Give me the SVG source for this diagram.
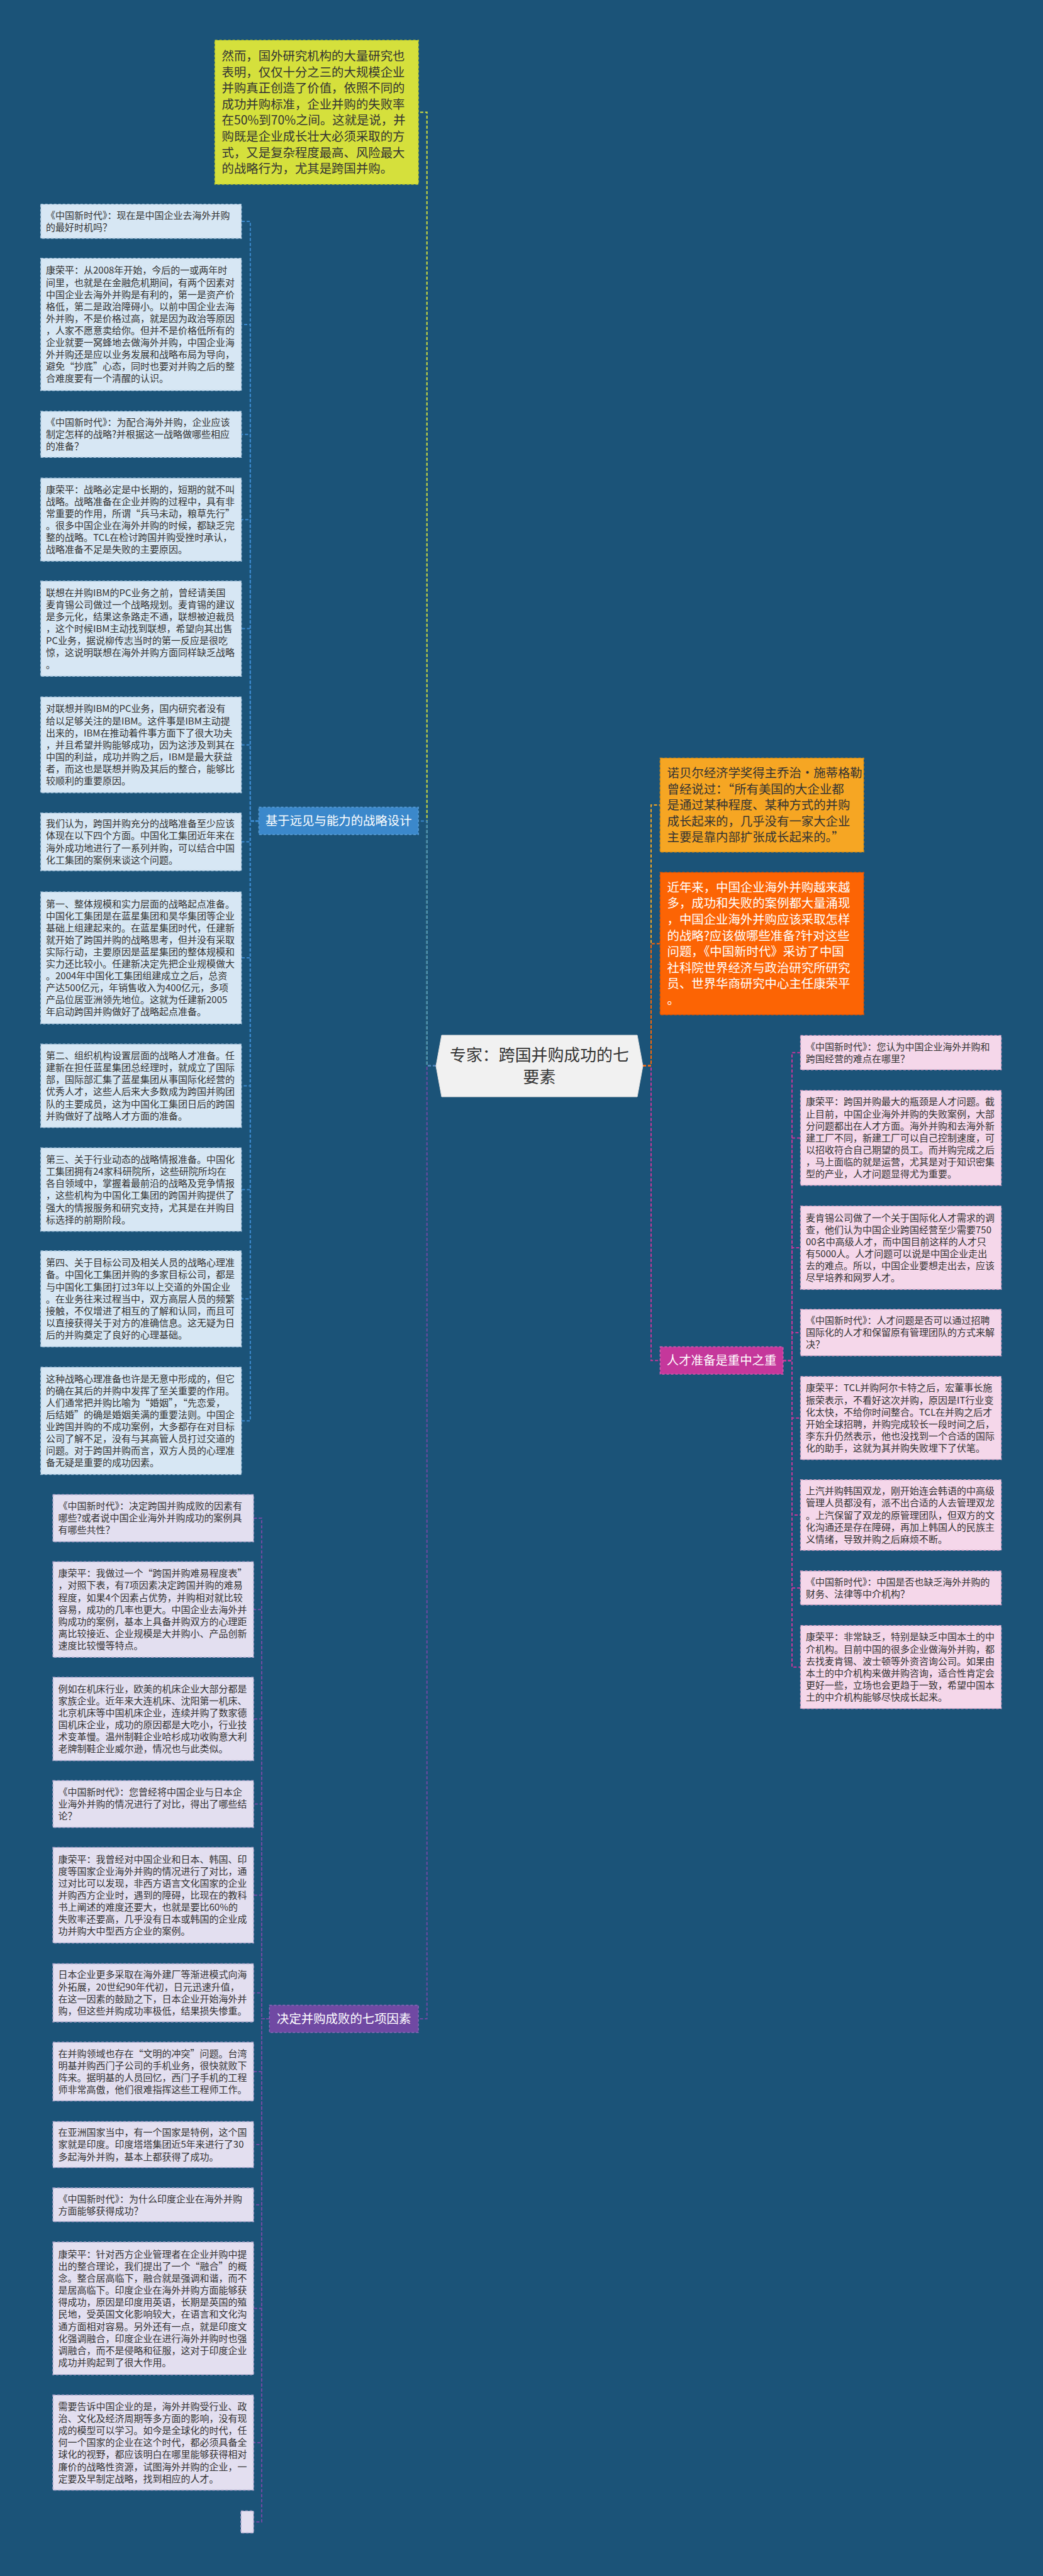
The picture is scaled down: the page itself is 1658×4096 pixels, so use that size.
<svg xmlns="http://www.w3.org/2000/svg" width="1658" height="4096" viewBox="0 0 1658 4096">
<style>
.t{font-family:"Noto Sans CJK SC","Noto Sans",sans-serif;font-size:15px;fill:#333}
.tb{font-family:"Noto Sans CJK SC","Noto Sans",sans-serif;font-size:19.4px;fill:#333}
.tw{fill:#fff}
.lbl{font-family:"Noto Sans CJK SC","Noto Sans",sans-serif;font-size:19.4px;fill:#fff;text-anchor:middle}
.n1{fill:#d7e7f4;stroke:#a9c6de;stroke-width:1.5;stroke-dasharray:4 3}
.n2{fill:#e3dff0;stroke:#aea5cc;stroke-width:1.5;stroke-dasharray:4 3}
.n3{fill:#f5d7ea;stroke:#d8a3c6;stroke-width:1.5;stroke-dasharray:4 3}
.c{fill:none;stroke-width:2;stroke-dasharray:5 3}
</style>
<rect width="1658" height="4096" fill="#1b5378"/>
<g id="connectors">
<path class="c" stroke="#d5e03c" d="M693 1694.5H678.7V178.6H665.1"/>
<path class="c" stroke="#7049a3" d="M693 1694.5H678.7V3210H665.1"/>
<path class="c" stroke="#3b88cb" d="M693 1694.5H678.7V1305.6H665.1"/>
<path class="c" stroke="#c5379b" d="M1022 1694.5H1035V2163.3H1049.4"/>
<path class="c" stroke="#f5a623" d="M1022 1694.5H1035V1280H1049.4"/>
<path class="c" stroke="#fc6404" d="M1022 1694.5H1035V1500.4H1049.4"/>
<g stroke="#3b88cb">
<path class="c" d="M411.5 1305.6H397.9V352H383.7"/>
<path class="c" d="M411.5 1305.6H397.9V516H383.7"/>
<path class="c" d="M411.5 1305.6H397.9V690.7H383.7"/>
<path class="c" d="M411.5 1305.6H397.9V826.2H383.7"/>
<path class="c" d="M411.5 1305.6H397.9V999.6H383.7"/>
<path class="c" d="M411.5 1305.6H397.9V1184.4H383.7"/>
<path class="c" d="M411.5 1305.6H397.9V1338.6H383.7"/>
<path class="c" d="M411.5 1305.6H397.9V1523.1H383.7"/>
<path class="c" d="M411.5 1305.6H397.9V1726.5H383.7"/>
<path class="c" d="M411.5 1305.6H397.9V1891.5H383.7"/>
<path class="c" d="M411.5 1305.6H397.9V2065.3H383.7"/>
<path class="c" d="M411.5 1305.6H397.9V2259.2H383.7"/>
</g>
<g stroke="#c5379b">
<path class="c" d="M1244.8 2163.3H1259V1673.8H1272.6"/>
<path class="c" d="M1244.8 2163.3H1259V1809.4H1272.6"/>
<path class="c" d="M1244.8 2163.3H1259V1984H1272.6"/>
<path class="c" d="M1244.8 2163.3H1259V2118.9H1272.6"/>
<path class="c" d="M1244.8 2163.3H1259V2254.8H1272.6"/>
<path class="c" d="M1244.8 2163.3H1259V2409.1H1272.6"/>
<path class="c" d="M1244.8 2163.3H1259V2525H1272.6"/>
<path class="c" d="M1244.8 2163.3H1259V2650.8H1272.6"/>
</g>
<g stroke="#7049a3">
<path class="c" d="M428.3 3210H416V2414H403.1"/>
<path class="c" d="M428.3 3210H416V2559.2H403.1"/>
<path class="c" d="M428.3 3210H416V2733.3H403.1"/>
<path class="c" d="M428.3 3210H416V2868.5H403.1"/>
<path class="c" d="M428.3 3210H416V3013.4H403.1"/>
<path class="c" d="M428.3 3210H416V3168.7H403.1"/>
<path class="c" d="M428.3 3210H416V3293.9H403.1"/>
<path class="c" d="M428.3 3210H416V3410.1H403.1"/>
<path class="c" d="M428.3 3210H416V3505.8H403.1"/>
<path class="c" d="M428.3 3210H416V3670.5H403.1"/>
<path class="c" d="M428.3 3210H416V3883.9H403.1"/>
<path class="c" d="M428.3 3210H416V4010.1H403.1"/>
</g>
</g>

<g id="center">
<path d="M702 1646H1013L1022 1695L1013 1744H702L693 1695Z" fill="#f1f1f1" stroke="#dcdcdc" stroke-width="1"/>
<text font-family="'Noto Sans CJK SC','Noto Sans',sans-serif" font-size="25.9" fill="#333" text-anchor="middle"><tspan x="857.5" y="1687">专家：跨国并购成功的七</tspan><tspan x="857.5" y="1722">要素</tspan></text>
</g>

<g id="yellow">
<rect x="341.6" y="64" width="323.5" height="229" fill="#d5e03c" stroke="#bfcb2c" stroke-width="1.5" stroke-dasharray="4 3"/>
<text class="tb" y="95.9"><tspan x="352.6">然而，国外研究机构的大量研究也</tspan><tspan x="352.6" dy="25.6">表明，仅仅十分之三的大规模企业</tspan><tspan x="352.6" dy="25.6">并购真正创造了价值，依照不同的</tspan><tspan x="352.6" dy="25.6">成功并购标准，企业并购的失败率</tspan><tspan x="352.6" dy="25.6">在50%到70%之间。这就是说，并</tspan><tspan x="352.6" dy="25.6">购既是企业成长壮大必须采取的方</tspan><tspan x="352.6" dy="25.6">式，又是复杂程度最高、风险最大</tspan><tspan x="352.6" dy="25.6">的战略行为，尤其是跨国并购。</tspan></text>
</g>

<g id="orange">
<rect x="1049.4" y="1205.4" width="323.5" height="149.4" fill="#f6a623" stroke="#e08f10" stroke-width="1.5" stroke-dasharray="4 3"/>
<text class="tb" y="1235.9"><tspan x="1060.5">诺贝尔经济学奖得主乔治•施蒂格勒</tspan><tspan x="1060.5" dy="25.6">曾经说过：“所有美国的大企业都</tspan><tspan x="1060.5" dy="25.6">是通过某种程度、某种方式的并购</tspan><tspan x="1060.5" dy="25.6">成长起来的，几乎没有一家大企业</tspan><tspan x="1060.5" dy="25.6">主要是靠内部扩张成长起来的。”</tspan></text>
</g>

<g id="red">
<rect x="1049.4" y="1387.2" width="323.5" height="226.4" fill="#fc6404" stroke="#e55500" stroke-width="1.5" stroke-dasharray="4 3"/>
<text class="tb tw" y="1417.8"><tspan x="1060.5">近年来，中国企业海外并购越来越</tspan><tspan x="1060.5" dy="25.6">多，成功和失败的案例都大量涌现</tspan><tspan x="1060.5" dy="25.6">，中国企业海外并购应该采取怎样</tspan><tspan x="1060.5" dy="25.6">的战略?应该做哪些准备?针对这些</tspan><tspan x="1060.5" dy="25.6">问题，《中国新时代》采访了中国</tspan><tspan x="1060.5" dy="25.6">社科院世界经济与政治研究所研究</tspan><tspan x="1060.5" dy="25.6">员、世界华商研究中心主任康荣平</tspan><tspan x="1060.5" dy="25.6">。</tspan></text>
</g>

<g id="branch-blue">
<rect x="411.5" y="1283.6" width="253.6" height="43.4" fill="#3b88cb" stroke="#5a9ed8" stroke-width="1.5" stroke-dasharray="4 3"/>
<text class="lbl" x="538.3" y="1312.3">基于远见与能力的战略设计</text>
</g>
<g id="branch-pink">
<rect x="1049.4" y="2141.6" width="195.4" height="43.3" fill="#c5379b" stroke="#d65cb0" stroke-width="1.5" stroke-dasharray="4 3"/>
<text class="lbl" x="1147.1" y="2170.3">人才准备是重中之重</text>
</g>
<g id="branch-purple">
<rect x="428.3" y="3188.4" width="236.8" height="43.4" fill="#7049a3" stroke="#8a68b8" stroke-width="1.5" stroke-dasharray="4 3"/>
<text class="lbl" x="546.7" y="3217">决定并购成败的七项因素</text>
</g>

<g id="a1"><rect class="n1" x="64.7" y="324.8" width="319" height="54.3"/><text class="t" y="347.8"><tspan x="73">《中国新时代》：现在是中国企业去海外并购</tspan><tspan x="73" dy="19.1">的最好时机吗？</tspan></text></g>
<g id="a2"><rect class="n1" x="64.7" y="410.8" width="319" height="210.3"/><text class="t" y="435.4"><tspan x="73">康荣平：从2008年开始，今后的一或两年时</tspan><tspan x="73" dy="19.1">间里，也就是在金融危机期间，有两个因素对</tspan><tspan x="73" dy="19.1">中国企业去海外并购是有利的，第一是资产价</tspan><tspan x="73" dy="19.1">格低，第二是政治障碍小。以前中国企业去海</tspan><tspan x="73" dy="19.1">外并购，不是价格过高，就是因为政治等原因</tspan><tspan x="73" dy="19.1">，人家不愿意卖给你。但并不是价格低所有的</tspan><tspan x="73" dy="19.1">企业就要一窝蜂地去做海外并购，中国企业海</tspan><tspan x="73" dy="19.1">外并购还是应以业务发展和战略布局为导向，</tspan><tspan x="73" dy="19.1">避免“抄底”心态，同时也要对并购之后的整</tspan><tspan x="73" dy="19.1">合难度要有一个清醒的认识。</tspan></text></g>
<g id="a3"><rect class="n1" x="64.7" y="654.1" width="319" height="73.1"/><text class="t" y="676.95"><tspan x="73">《中国新时代》：为配合海外并购，企业应该</tspan><tspan x="73" dy="19.1">制定怎样的战略?并根据这一战略做哪些相应</tspan><tspan x="73" dy="19.1">的准备？</tspan></text></g>
<g id="a4"><rect class="n1" x="64.7" y="760.2" width="319" height="132"/><text class="t" y="783.85"><tspan x="73">康荣平：战略必定是中长期的，短期的就不叫</tspan><tspan x="73" dy="19.1">战略。战略准备在企业并购的过程中，具有非</tspan><tspan x="73" dy="19.1">常重要的作用，所谓“兵马未动，粮草先行”</tspan><tspan x="73" dy="19.1">。很多中国企业在海外并购的时候，都缺乏完</tspan><tspan x="73" dy="19.1">整的战略。TCL在检讨跨国并购受挫时承认，</tspan><tspan x="73" dy="19.1">战略准备不足是失败的主要原因。</tspan></text></g>
<g id="a5"><rect class="n1" x="64.7" y="923.9" width="319" height="151.4"/><text class="t" y="947.7"><tspan x="73">联想在并购IBM的PC业务之前，曾经请美国</tspan><tspan x="73" dy="19.1">麦肯锡公司做过一个战略规划。麦肯锡的建议</tspan><tspan x="73" dy="19.1">是多元化，结果这条路走不通，联想被迫裁员</tspan><tspan x="73" dy="19.1">，这个时候IBM主动找到联想，希望向其出售</tspan><tspan x="73" dy="19.1">PC业务，据说柳传志当时的第一反应是很吃</tspan><tspan x="73" dy="19.1">惊，这说明联想在海外并购方面同样缺乏战略</tspan><tspan x="73" dy="19.1">。</tspan></text></g>
<g id="a6"><rect class="n1" x="64.7" y="1108.3" width="319" height="152.1"/><text class="t" y="1132.45"><tspan x="73">对联想并购IBM的PC业务，国内研究者没有</tspan><tspan x="73" dy="19.1">给以足够关注的是IBM。这件事是IBM主动提</tspan><tspan x="73" dy="19.1">出来的，IBM在推动着件事方面下了很大功夫</tspan><tspan x="73" dy="19.1">，并且希望并购能够成功，因为这涉及到其在</tspan><tspan x="73" dy="19.1">中国的利益，成功并购之后，IBM是最大获益</tspan><tspan x="73" dy="19.1">者，而这也是联想并购及其后的整合，能够比</tspan><tspan x="73" dy="19.1">较顺利的重要原因。</tspan></text></g>
<g id="a7"><rect class="n1" x="64.7" y="1292.7" width="319" height="91.8"/><text class="t" y="1315.35"><tspan x="73">我们认为，跨国并购充分的战略准备至少应该</tspan><tspan x="73" dy="19.1">体现在以下四个方面。中国化工集团近年来在</tspan><tspan x="73" dy="19.1">海外成功地进行了一系列并购，可以结合中国</tspan><tspan x="73" dy="19.1">化工集团的案例来谈这个问题。</tspan></text></g>
<g id="a8"><rect class="n1" x="64.7" y="1418.2" width="319" height="209.7"/><text class="t" y="1442.5"><tspan x="73">第一、整体规模和实力层面的战略起点准备。</tspan><tspan x="73" dy="19.1">中国化工集团是在蓝星集团和昊华集团等企业</tspan><tspan x="73" dy="19.1">基础上组建起来的。在蓝星集团时代，任建新</tspan><tspan x="73" dy="19.1">就开始了跨国并购的战略思考，但并没有采取</tspan><tspan x="73" dy="19.1">实际行动，主要原因是蓝星集团的整体规模和</tspan><tspan x="73" dy="19.1">实力还比较小。任建新决定先把企业规模做大</tspan><tspan x="73" dy="19.1">。2004年中国化工集团组建成立之后，总资</tspan><tspan x="73" dy="19.1">产达500亿元，年销售收入为400亿元，多项</tspan><tspan x="73" dy="19.1">产品位居亚洲领先地位。这就为任建新2005</tspan><tspan x="73" dy="19.1">年启动跨国并购做好了战略起点准备。</tspan></text></g>
<g id="a9"><rect class="n1" x="64.7" y="1660.2" width="319" height="132.6"/><text class="t" y="1684.15"><tspan x="73">第二、组织机构设置层面的战略人才准备。任</tspan><tspan x="73" dy="19.1">建新在担任蓝星集团总经理时，就成立了国际</tspan><tspan x="73" dy="19.1">部，国际部汇集了蓝星集团从事国际化经营的</tspan><tspan x="73" dy="19.1">优秀人才，这些人后来大多数成为跨国并购团</tspan><tspan x="73" dy="19.1">队的主要成员，这为中国化工集团日后的跨国</tspan><tspan x="73" dy="19.1">并购做好了战略人才方面的准备。</tspan></text></g>
<g id="a10"><rect class="n1" x="64.7" y="1825.2" width="319" height="132.6"/><text class="t" y="1849.15"><tspan x="73">第三、关于行业动态的战略情报准备。中国化</tspan><tspan x="73" dy="19.1">工集团拥有24家科研院所，这些研院所均在</tspan><tspan x="73" dy="19.1">各自领域中，掌握着最前沿的战略及竞争情报</tspan><tspan x="73" dy="19.1">，这些机构为中国化工集团的跨国并购提供了</tspan><tspan x="73" dy="19.1">强大的情报服务和研究支持，尤其是在并购目</tspan><tspan x="73" dy="19.1">标选择的前期阶段。</tspan></text></g>
<g id="a11"><rect class="n1" x="64.7" y="1988.9" width="319" height="152.7"/><text class="t" y="2013.35"><tspan x="73">第四、关于目标公司及相关人员的战略心理准</tspan><tspan x="73" dy="19.1">备。中国化工集团并购的多家目标公司，都是</tspan><tspan x="73" dy="19.1">与中国化工集团打过3年以上交道的外国企业</tspan><tspan x="73" dy="19.1">。在业务往来过程当中，双方高层人员的频繁</tspan><tspan x="73" dy="19.1">接触，不仅增进了相互的了解和认同，而且可</tspan><tspan x="73" dy="19.1">以直接获得关于对方的准确信息。这无疑为日</tspan><tspan x="73" dy="19.1">后的并购奠定了良好的心理基础。</tspan></text></g>
<g id="a12"><rect class="n1" x="64.7" y="2173.9" width="319" height="170.5"/><text class="t" y="2197.7"><tspan x="73">这种战略心理准备也许是无意中形成的，但它</tspan><tspan x="73" dy="19.1">的确在其后的并购中发挥了至关重要的作用。</tspan><tspan x="73" dy="19.1">人们通常把并购比喻为“婚姻”，“先恋爱，</tspan><tspan x="73" dy="19.1">后结婚”的确是婚姻美满的重要法则。中国企</tspan><tspan x="73" dy="19.1">业跨国并购的不成功案例，大多都存在对目标</tspan><tspan x="73" dy="19.1">公司了解不足，没有与其高管人员打过交道的</tspan><tspan x="73" dy="19.1">问题。对于跨国并购而言，双方人员的心理准</tspan><tspan x="73" dy="19.1">备无疑是重要的成功因素。</tspan></text></g>

<g id="p1"><rect class="n3" x="1272.6" y="1646.6" width="319" height="54.4"/><text class="t" y="1669.65"><tspan x="1281">《中国新时代》：您认为中国企业海外并购和</tspan><tspan x="1281" dy="19.1">跨国经营的难点在哪里？</tspan></text></g>
<g id="p2"><rect class="n3" x="1272.6" y="1734" width="319" height="150.7"/><text class="t" y="1757.45"><tspan x="1281">康荣平：跨国并购最大的瓶颈是人才问题。截</tspan><tspan x="1281" dy="19.1">止目前，中国企业海外并购的失败案例，大部</tspan><tspan x="1281" dy="19.1">分问题都出在人才方面。海外并购和去海外新</tspan><tspan x="1281" dy="19.1">建工厂不同，新建工厂可以自己控制速度，可</tspan><tspan x="1281" dy="19.1">以招收符合自己期望的员工。而并购完成之后</tspan><tspan x="1281" dy="19.1">，马上面临的就是运营，尤其是对于知识密集</tspan><tspan x="1281" dy="19.1">型的产业，人才问题显得尤为重要。</tspan></text></g>
<g id="p3"><rect class="n3" x="1272.6" y="1917.7" width="319" height="132.6"/><text class="t" y="1941.65"><tspan x="1281">麦肯锡公司做了一个关于国际化人才需求的调</tspan><tspan x="1281" dy="19.1">查，他们认为中国企业跨国经营至少需要750</tspan><tspan x="1281" dy="19.1">00名中高级人才，而中国目前这样的人才只</tspan><tspan x="1281" dy="19.1">有5000人。人才问题可以说是中国企业走出</tspan><tspan x="1281" dy="19.1">去的难点。所以，中国企业要想走出去，应该</tspan><tspan x="1281" dy="19.1">尽早培养和网罗人才。</tspan></text></g>
<g id="p4"><rect class="n3" x="1272.6" y="2082" width="319" height="73.8"/><text class="t" y="2105.2"><tspan x="1281">《中国新时代》：人才问题是否可以通过招聘</tspan><tspan x="1281" dy="19.1">国际化的人才和保留原有管理团队的方式来解</tspan><tspan x="1281" dy="19.1">决？</tspan></text></g>
<g id="p5"><rect class="n3" x="1272.6" y="2188.8" width="319" height="132"/><text class="t" y="2212.45"><tspan x="1281">康荣平：TCL并购阿尔卡特之后，宏董事长施</tspan><tspan x="1281" dy="19.1">振荣表示，不看好这次并购，原因是IT行业变</tspan><tspan x="1281" dy="19.1">化太快，不给你时间整合。TCL在并购之后才</tspan><tspan x="1281" dy="19.1">开始全球招聘，并购完成较长一段时间之后，</tspan><tspan x="1281" dy="19.1">李东升仍然表示，他也没找到一个合适的国际</tspan><tspan x="1281" dy="19.1">化的助手，这就为其并购失败埋下了伏笔。</tspan></text></g>
<g id="p6"><rect class="n3" x="1272.6" y="2353.1" width="319" height="112"/><text class="t" y="2376.3"><tspan x="1281">上汽并购韩国双龙，刚开始连会韩语的中高级</tspan><tspan x="1281" dy="19.1">管理人员都没有，派不出合适的人去管理双龙</tspan><tspan x="1281" dy="19.1">。上汽保留了双龙的原管理团队，但双方的文</tspan><tspan x="1281" dy="19.1">化沟通还是存在障碍，再加上韩国人的民族主</tspan><tspan x="1281" dy="19.1">义情绪，导致并购之后麻烦不断。</tspan></text></g>
<g id="p7"><rect class="n3" x="1272.6" y="2498.1" width="319" height="53.7"/><text class="t" y="2520.8"><tspan x="1281">《中国新时代》：中国是否也缺乏海外并购的</tspan><tspan x="1281" dy="19.1">财务、法律等中介机构？</tspan></text></g>
<g id="p8"><rect class="n3" x="1272.6" y="2584.8" width="319" height="132"/><text class="t" y="2608.45"><tspan x="1281">康荣平：非常缺乏，特别是缺乏中国本土的中</tspan><tspan x="1281" dy="19.1">介机构。目前中国的很多企业做海外并购，都</tspan><tspan x="1281" dy="19.1">去找麦肯锡、波士顿等外资咨询公司。如果由</tspan><tspan x="1281" dy="19.1">本土的中介机构来做并购咨询，适合性肯定会</tspan><tspan x="1281" dy="19.1">更好一些，立场也会更趋于一致，希望中国本</tspan><tspan x="1281" dy="19.1">土的中介机构能够尽快成长起来。</tspan></text></g>

<g id="b1"><rect class="n2" x="84.1" y="2376.4" width="319" height="75.1"/><text class="t" y="2400.25"><tspan x="92.5">《中国新时代》：决定跨国并购成败的因素有</tspan><tspan x="92.5" dy="19.1">哪些?或者说中国企业海外并购成功的案例具</tspan><tspan x="92.5" dy="19.1">有哪些共性？</tspan></text></g>
<g id="b2"><rect class="n2" x="84.1" y="2483.2" width="319" height="152"/><text class="t" y="2507.3"><tspan x="92.5">康荣平：我做过一个“跨国并购难易程度表”</tspan><tspan x="92.5" dy="19.1">，对照下表，有7项因素决定跨国并购的难易</tspan><tspan x="92.5" dy="19.1">程度，如果4个因素占优势，并购相对就比较</tspan><tspan x="92.5" dy="19.1">容易，成功的几率也更大。中国企业去海外并</tspan><tspan x="92.5" dy="19.1">购成功的案例，基本上具备并购双方的心理距</tspan><tspan x="92.5" dy="19.1">离比较接近、企业规模是大并购小、产品创新</tspan><tspan x="92.5" dy="19.1">速度比较慢等特点。</tspan></text></g>
<g id="b3"><rect class="n2" x="84.1" y="2666.9" width="319" height="132.7"/><text class="t" y="2690.9"><tspan x="92.5">例如在机床行业，欧美的机床企业大部分都是</tspan><tspan x="92.5" dy="19.1">家族企业。近年来大连机床、沈阳第一机床、</tspan><tspan x="92.5" dy="19.1">北京机床等中国机床企业，连续并购了数家德</tspan><tspan x="92.5" dy="19.1">国机床企业，成功的原因都是大吃小，行业技</tspan><tspan x="92.5" dy="19.1">术变革慢。温州制鞋企业哈杉成功收购意大利</tspan><tspan x="92.5" dy="19.1">老牌制鞋企业威尔逊，情况也与此类似。</tspan></text></g>
<g id="b4"><rect class="n2" x="84.1" y="2831.3" width="319" height="74.4"/><text class="t" y="2854.8"><tspan x="92.5">《中国新时代》：您曾经将中国企业与日本企</tspan><tspan x="92.5" dy="19.1">业海外并购的情况进行了对比，得出了哪些结</tspan><tspan x="92.5" dy="19.1">论？</tspan></text></g>
<g id="b5"><rect class="n2" x="84.1" y="2937.4" width="319" height="152"/><text class="t" y="2961.5"><tspan x="92.5">康荣平：我曾经对中国企业和日本、韩国、印</tspan><tspan x="92.5" dy="19.1">度等国家企业海外并购的情况进行了对比，通</tspan><tspan x="92.5" dy="19.1">过对比可以发现，非西方语言文化国家的企业</tspan><tspan x="92.5" dy="19.1">并购西方企业时，遇到的障碍，比现在的教科</tspan><tspan x="92.5" dy="19.1">书上阐述的难度还要大，也就是要比60%的</tspan><tspan x="92.5" dy="19.1">失败率还要高，几乎没有日本或韩国的企业成</tspan><tspan x="92.5" dy="19.1">功并购大中型西方企业的案例。</tspan></text></g>
<g id="b6"><rect class="n2" x="84.1" y="3122.4" width="319" height="92.5"/><text class="t" y="3145.4"><tspan x="92.5">日本企业更多采取在海外建厂等渐进模式向海</tspan><tspan x="92.5" dy="19.1">外拓展，20世纪90年代初，日元迅速升值，</tspan><tspan x="92.5" dy="19.1">在这一因素的鼓励之下，日本企业开始海外并</tspan><tspan x="92.5" dy="19.1">购，但这些并购成功率极低，结果损失惨重。</tspan></text></g>
<g id="b7"><rect class="n2" x="84.1" y="3247.3" width="319" height="93.2"/><text class="t" y="3270.65"><tspan x="92.5">在并购领域也存在“文明的冲突”问题。台湾</tspan><tspan x="92.5" dy="19.1">明基并购西门子公司的手机业务，很快就败下</tspan><tspan x="92.5" dy="19.1">阵来。据明基的人员回忆，西门子手机的工程</tspan><tspan x="92.5" dy="19.1">师非常高傲，他们很难指挥这些工程师工作。</tspan></text></g>
<g id="b8"><rect class="n2" x="84.1" y="3373.5" width="319" height="73.1"/><text class="t" y="3396.35"><tspan x="92.5">在亚洲国家当中，有一个国家是特例，这个国</tspan><tspan x="92.5" dy="19.1">家就是印度。印度塔塔集团近5年来进行了30</tspan><tspan x="92.5" dy="19.1">多起海外并购，基本上都获得了成功。</tspan></text></g>
<g id="b9"><rect class="n2" x="84.1" y="3478.9" width="319" height="53.7"/><text class="t" y="3501.6"><tspan x="92.5">《中国新时代》：为什么印度企业在海外并购</tspan><tspan x="92.5" dy="19.1">方面能够获得成功？</tspan></text></g>
<g id="b10"><rect class="n2" x="84.1" y="3565" width="319" height="210.9"/><text class="t" y="3589.9"><tspan x="92.5">康荣平：针对西方企业管理者在企业并购中提</tspan><tspan x="92.5" dy="19.1">出的整合理论，我们提出了一个“融合”的概</tspan><tspan x="92.5" dy="19.1">念。整合居高临下，融合就是强调和谐，而不</tspan><tspan x="92.5" dy="19.1">是居高临下。印度企业在海外并购方面能够获</tspan><tspan x="92.5" dy="19.1">得成功，原因是印度用英语，长期是英国的殖</tspan><tspan x="92.5" dy="19.1">民地，受英国文化影响较大，在语言和文化沟</tspan><tspan x="92.5" dy="19.1">通方面相对容易。另外还有一点，就是印度文</tspan><tspan x="92.5" dy="19.1">化强调融合，印度企业在进行海外并购时也强</tspan><tspan x="92.5" dy="19.1">调融合，而不是侵略和征服，这对于印度企业</tspan><tspan x="92.5" dy="19.1">成功并购起到了很大作用。</tspan></text></g>
<g id="b11"><rect class="n2" x="84.1" y="3808.2" width="319" height="151.4"/><text class="t" y="3832"><tspan x="92.5">需要告诉中国企业的是，海外并购受行业、政</tspan><tspan x="92.5" dy="19.1">治、文化及经济周期等多方面的影响，没有现</tspan><tspan x="92.5" dy="19.1">成的模型可以学习。如今是全球化的时代，任</tspan><tspan x="92.5" dy="19.1">何一个国家的企业在这个时代，都必须具备全</tspan><tspan x="92.5" dy="19.1">球化的视野，都应该明白在哪里能够获得相对</tspan><tspan x="92.5" dy="19.1">廉价的战略性资源，试图海外并购的企业，一</tspan><tspan x="92.5" dy="19.1">定要及早制定战略，找到相应的人才。</tspan></text></g>
<g id="b12"><rect class="n2" x="383" y="3992.6" width="20.1" height="35"/></g>
</svg>
